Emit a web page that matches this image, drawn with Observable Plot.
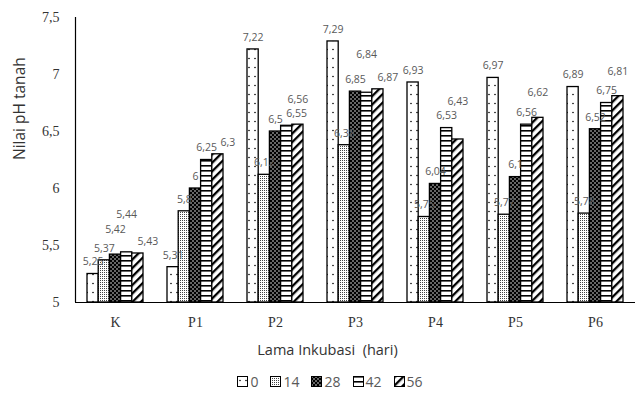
<!DOCTYPE html>
<html>
<head>
<meta charset="utf-8">
<script src="https://cdn.jsdelivr.net/npm/d3@7"></script>
<script src="https://cdn.jsdelivr.net/npm/@observablehq/plot@0.6"></script>
<style>
  body { margin: 0; background: #fff; width: 635px; }
  #legend { display: flex; justify-content: center; align-items: center; gap: 12px;
    font-family: "Open Sans", "Liberation Sans", sans-serif; font-size: 14px; color: #595959;
    margin-left: 25px; height: 30px; }
  #legend .item { display: flex; align-items: center; gap: 2px; }
  #legend svg { display: block; }
</style>
</head>
<body>
<div id="chart"></div>
<div id="legend"></div>
<script>
const categories = ["K", "P1", "P2", "P3", "P4", "P5", "P6"];
const series = ["0", "14", "28", "42", "56"];
const values0  = [5.25, 5.31, 7.22, 7.29, 6.93, 6.97, 6.89];
const values14 = [5.37, 5.8, 6.12, 6.38, 5.75, 5.77, 5.78];
const values28 = [5.42, 6, 6.5, 6.85, 6.04, 6.1, 6.52];
const values42 = [5.44, 6.25, 6.55, 6.84, 6.53, 6.56, 6.75];
const values56 = [5.43, 6.3, 6.56, 6.87, 6.43, 6.62, 6.81];
const yTicks = [5, 5.5, 6, 6.5, 7, 7.5];

const allValues = [values0, values14, values28, values42, values56];
const patternIds = ["p0", "p14", "p28", "p42", "p56"];
const groupWidth = 0.7;
const barW = groupWidth / series.length;

const W = 635, H = 366, mL = 75, mR = 0, mT = 17, mB = 64;
const xDomain = [-0.5, categories.length - 0.5];
const yDomain = [5, 7.5];

const rows = categories.flatMap((c, i) =>
  series.map((s, j) => ({cat: c, i, j, s, v: allValues[j][i]})));

const fmt = v => String(v).replace(".", ",");
const labelColor = "#595959";
const sans = "'Open Sans', 'Liberation Sans', sans-serif";
const serif = "'Liberation Serif', 'DejaVu Serif', serif";
const labelSize = 10.5;

// label placement (avoid collisions inside a group) using Plot's own scales
const xs = Plot.scale({x: {type: "linear", domain: xDomain, range: [mL, W - mR]}});
const ys = Plot.scale({y: {type: "linear", domain: yDomain, range: [H - mB, mT]}});
const ctx = document.createElement("canvas").getContext("2d");
ctx.font = `${labelSize}px 'Open Sans', 'Liberation Sans', sans-serif`;
const lineH = 13;
const placed = [];
rows.forEach(d => {
  const cx = xs.apply(d.i - groupWidth / 2 + (d.j + 0.5) * barW);
  const w = ctx.measureText(fmt(d.v)).width + 2;
  const y0 = ys.apply(d.v) - 12;
  const others = placed.filter(p => p.i === d.i);
  const ok = (x, y) => others.every(p =>
    Math.abs(p.x - x) >= (p.w + w) / 2 + 1 || Math.abs(p.y - y) >= lineH);
  let pos = null;
  for (let k = 0; k < 6 && !pos; k++) {
    const y = y0 - k * lineH;
    for (const dx of [0, 10]) {
      if (ok(cx + dx, y)) { pos = {x: cx + dx, y}; break; }
    }
  }
  if (!pos) pos = {x: cx, y: y0};
  placed.push({i: d.i, x: pos.x, y: pos.y, w});
  d.lx = xs.invert ? xs.invert(pos.x) : xDomain[0] + (pos.x - mL) / (W - mL - mR) * (xDomain[1] - xDomain[0]);
  d.ly = ys.invert ? ys.invert(pos.y) : yDomain[0] + (H - mB - pos.y) / (H - mB - mT) * (yDomain[1] - yDomain[0]);
});

const barMarks = series.map((s, j) =>
  Plot.rectY(rows.filter(d => d.j === j), {
    x1: d => d.i - groupWidth / 2 + d.j * barW,
    x2: d => d.i - groupWidth / 2 + (d.j + 1) * barW,
    y1: 5,
    y2: "v",
    fill: `url(#${patternIds[j]})`,
    stroke: "black",
    strokeWidth: 1.3
  }));

const chart = Plot.plot({
  width: W,
  height: H,
  marginLeft: mL,
  marginRight: mR,
  marginTop: mT,
  marginBottom: mB,
  x: {domain: xDomain, axis: null},
  y: {domain: yDomain, axis: null},
  marks: [
    ...barMarks,
    Plot.text(rows, {
      x: "lx",
      y: "ly",
      text: d => fmt(d.v),
      fill: labelColor,
      fontSize: labelSize,
      fontFamily: sans
    }),
    Plot.ruleY([5], {stroke: "black", strokeWidth: 1.2}),
    Plot.ruleX([-0.5], {y1: 5, y2: 7.5, stroke: "black", strokeWidth: 1.2}),
    Plot.axisY(yTicks, {
      tickSize: 0, tickPadding: 16, label: null,
      tickFormat: fmt, fontSize: 14, fontFamily: serif, fill: "#333"
    }),
    Plot.axisX(categories.map((c, i) => i), {
      tickSize: 0, tickPadding: 15, label: null,
      tickFormat: i => categories[i], fontSize: 14, fontFamily: serif, fill: "#333"
    }),
    Plot.text(["Nilai pH tanah"], {
      frameAnchor: "left", rotate: -90, dx: -55,
      fontSize: 15.5, fontFamily: sans, fill: "#333"
    }),
    Plot.text(["Lama Inkubasi  (hari)"], {
      frameAnchor: "bottom", dx: -28, dy: 52,
      fontSize: 14.5, fontFamily: sans, fill: "#333"
    })
  ]
});

function addPatterns(svgEl) {
  const defs = d3.select(svgEl).insert("defs", ":first-child");
  let p = defs.append("pattern").attr("id", "p0").attr("patternUnits", "userSpaceOnUse")
    .attr("width", 6).attr("height", 9);
  p.append("rect").attr("width", 6).attr("height", 9).attr("fill", "white");
  p.append("circle").attr("cx", 3).attr("cy", 4.5).attr("r", 0.8).attr("fill", "black");
  p = defs.append("pattern").attr("id", "p14").attr("patternUnits", "userSpaceOnUse")
    .attr("width", 2).attr("height", 2);
  p.append("rect").attr("width", 2).attr("height", 2).attr("fill", "white");
  p.append("rect").attr("width", 1).attr("height", 1).attr("fill", "#444");
  p = defs.append("pattern").attr("id", "p28").attr("patternUnits", "userSpaceOnUse")
    .attr("width", 4).attr("height", 4);
  p.append("rect").attr("width", 4).attr("height", 4).attr("fill", "black");
  p.append("circle").attr("cx", 1).attr("cy", 1).attr("r", 0.75).attr("fill", "white");
  p.append("circle").attr("cx", 3).attr("cy", 3).attr("r", 0.75).attr("fill", "white");
  p = defs.append("pattern").attr("id", "p42").attr("patternUnits", "userSpaceOnUse")
    .attr("width", 5).attr("height", 5);
  p.append("rect").attr("width", 5).attr("height", 5).attr("fill", "white");
  p.append("rect").attr("width", 5).attr("height", 1.6).attr("fill", "black");
  p = defs.append("pattern").attr("id", "p56").attr("patternUnits", "userSpaceOnUse")
    .attr("width", 6).attr("height", 6).attr("patternTransform", "rotate(45)");
  p.append("rect").attr("width", 6).attr("height", 6).attr("fill", "white");
  p.append("rect").attr("width", 2.3).attr("height", 6).attr("fill", "black");
}
addPatterns(chart);
document.getElementById("chart").appendChild(chart);

const legend = d3.select("#legend");
series.forEach((s, j) => {
  const item = legend.append("div").attr("class", "item");
  const sw = item.append("svg").attr("width", 11).attr("height", 11);
  sw.append("rect").attr("x", 0.5).attr("y", 0.5).attr("width", 10).attr("height", 10)
    .attr("fill", `url(#${patternIds[j]})`).attr("stroke", "black").attr("stroke-width", 1);
  item.append("span").text(s);
});
</script>
</body>
</html>
